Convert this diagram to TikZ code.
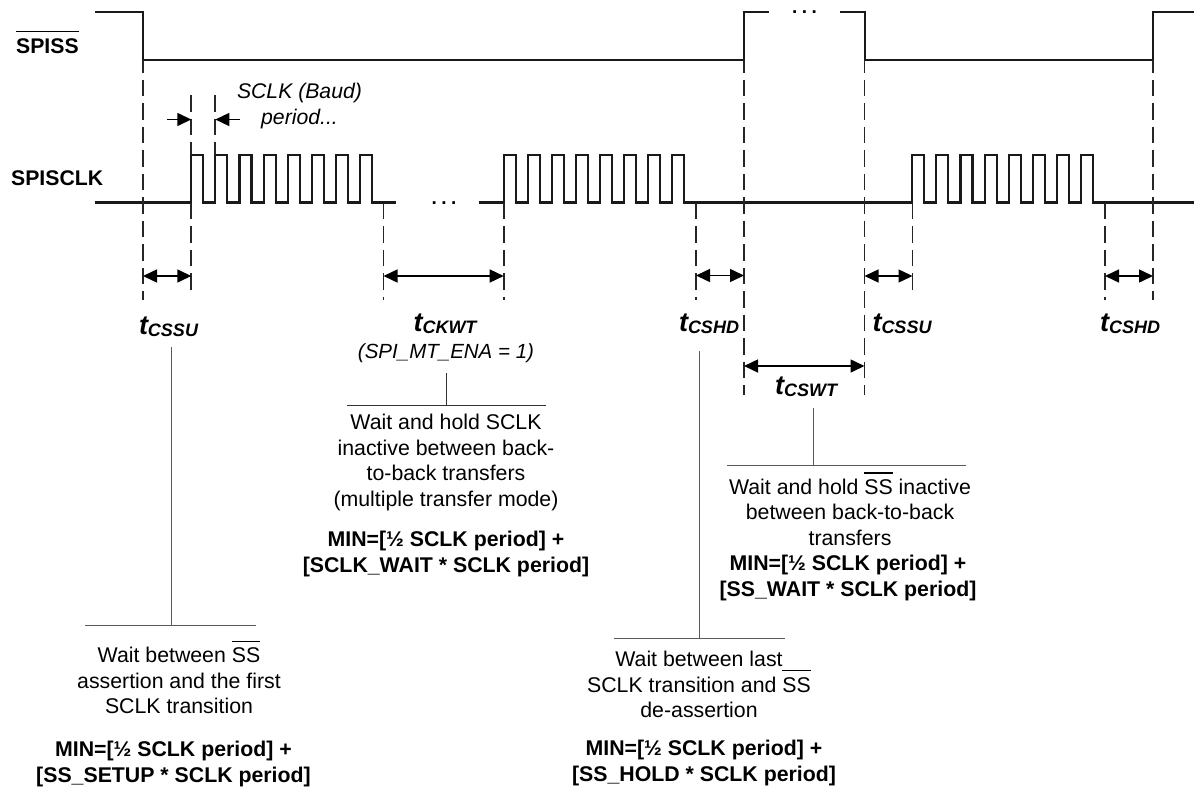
\documentclass[tikz,border=0pt]{standalone}
\usepackage{fontspec}
\setmainfont{Liberation Sans}
\usetikzlibrary{arrows.meta}
\newcommand{\ovl}[1]{\leavevmode\setbox0\hbox{#1}\rlap{\rule[0.97em]{\wd0}{1.4pt}}#1}
\newcommand{\tm}[1]{{\fontsize{27}{27}\selectfont\bfseries\itshape t\fontsize{18}{18}\selectfont\raisebox{-2.5pt}{#1}}}
\tikzset{
  wave/.style={line width=2.05pt,black!90,line cap=butt},
  guide/.style={line width=1.7pt,black!85,dash pattern=on 16.5pt off 7pt},
  guidetop/.style={guide,dash phase=4pt},
  span/.style={line width=1.5pt,black,{Triangle[length=14pt,width=13pt]}-{Triangle[length=14pt,width=13pt]}},
  single/.style={line width=1.5pt,black,-{Triangle[length=14pt,width=13pt]}},
  leader/.style={line width=1pt,black!65},
  desc/.style={align=center,inner sep=0pt,font=\fontsize{21.3}{25.5}\selectfont},
  minf/.style={align=center,inner sep=0pt,font=\fontsize{21.3}{25.5}\selectfont\bfseries},
  sig/.style={inner sep=0pt,font=\fontsize{21.2}{21}\selectfont\bfseries},
  timing/.style={inner sep=0pt},
  dots/.style={inner sep=0pt,font=\fontsize{19}{19}\selectfont\bfseries}
}
\newcommand{\pulses}[1]{%
  \draw[wave] (#1,202.5)
  \foreach \k in {0,...,7}{ -- ({#1+\k*24.1},155) -- ({#1+\k*24.1+12},155) -- ({#1+\k*24.1+12},202.5) -- ({#1+\k*24.1+24.1},202.5)} ;
}
\newcommand{\threedots}{.\hspace{4.4pt}.\hspace{4.4pt}.}
\begin{document}
\begin{tikzpicture}[x=1pt,y=-1pt]
\useasboundingbox (0,0) rectangle (1194,787);
% SPISS
\draw[wave] (95,12) -- (143,12) -- (143,60) -- (744,60) -- (744,12) -- (769,12);
\draw[wave] (840,12) -- (865,12) -- (865,60) -- (1153,60) -- (1153,12) -- (1194,12);
% SPISCLK
\draw[wave] (95,202.5) -- (191.3,202.5);
\pulses{191.3}
\draw[wave] (371.6,202.5) -- (396,202.5);
\draw[wave] (479,202.5) -- (503.7,202.5);
\pulses{503.7}
\draw[wave] (684.5,202.5) -- (912.3,202.5);
\pulses{912.3}
\draw[wave] (1093,202.5) -- (1194,202.5);
\node[dots,anchor=base] (dotsa) at (804.5,13.5) {\threedots};
\node[dots,anchor=base] (dotsb) at (444,204) {\threedots};
% guides
\draw[guidetop] (143,60) -- (143,300);
\draw[guide] (191.3,95) -- (191.3,155);
\draw[guide] (215.3,95) -- (215.3,155);
\draw[guide] (191.3,202.5) -- (191.3,292);
\draw[guide] (383.5,202.5) -- (383.5,300);
\draw[guide] (503.7,202.5) -- (503.7,300);
\draw[guide] (696,202.5) -- (696,300);
\draw[guidetop] (744,60) -- (744,395);
\draw[guidetop] (864.5,60) -- (864.5,395);
\draw[guide] (912.5,202.5) -- (912.5,292);
\draw[guide] (1105,202.5) -- (1105,300);
\draw[guidetop] (1153,60) -- (1153,300);
% spans
\coordinate (a1) at (143,276); \coordinate (a2) at (191.3,276);
\coordinate (b1) at (383.5,276); \coordinate (b2) at (503.7,276);
\coordinate (c1) at (696,275.5); \coordinate (c2) at (744,275.5);
\coordinate (d1) at (864.5,276); \coordinate (d2) at (912.5,276);
\coordinate (e1) at (1105,276); \coordinate (e2) at (1153,276);
\coordinate (f1) at (744,366); \coordinate (f2) at (864.5,366);
\coordinate (p1) at (167,119.5); \coordinate (p2) at (191.3,119.5);
\coordinate (p3) at (240,119.5); \coordinate (p4) at (215.3,119.5);
\draw[span] (a1) -- (a2);
\draw[span] (b1) -- (b2);
\draw[span] (c1) -- (c2);
\draw[span] (d1) -- (d2);
\draw[span] (e1) -- (e2);
\draw[span] (f1) -- (f2);
\draw[single] (p1) -- (p2);
\draw[single] (p3) -- (p4);
% signal labels
\node[sig,anchor=base west] (spiss) at (16,53) {\ovl{SPISS}};
\node[sig,anchor=base west] (spisclk) at (11,185) {SPISCLK};
\node[desc,font=\fontsize{21.2}{25.5}\selectfont\itshape] (baud) at (299.5,106) {SCLK (Baud)\\period...};
% timing labels
\node[timing,anchor=base] (t1) at (168.5,334) {\tm{CSSU}};
\node[timing,anchor=base] (t2) at (445,331) {\tm{CKWT}};
\node[desc,font=\fontsize{20.5}{25.5}\selectfont\itshape] (t2sub) at (446,353.5) {(SPI\_MT\_ENA = 1)};
\node[timing,anchor=base] (t3) at (709,331) {\tm{CSHD}};
\node[timing,anchor=base] (t4) at (902,331) {\tm{CSSU}};
\node[timing,anchor=base] (t5) at (1130,331) {\tm{CSHD}};
\node[timing,anchor=base] (t6) at (806,394) {\tm{CSWT}};
% leaders
\coordinate (l1t) at (171,347); \coordinate (l1b) at (171,625.5);
\coordinate (l1a) at (85,625.5); \coordinate (l1c) at (256,625.5);
\draw[leader] (l1t) -- (l1b); \draw[leader] (l1a) -- (l1c);
\coordinate (l2t) at (446,373); \coordinate (l2b) at (446,405);
\coordinate (l2a) at (347,405); \coordinate (l2c) at (546,405);
\draw[leader,black!80] (l2t) -- (l2b); \draw[leader,black!80] (l2a) -- (l2c);
\coordinate (l3t) at (699,351); \coordinate (l3b) at (699,638.5);
\coordinate (l3a) at (614,638.5); \coordinate (l3c) at (785,638.5);
\draw[leader] (l3t) -- (l3b); \draw[leader] (l3a) -- (l3c);
\coordinate (l4t) at (813,408); \coordinate (l4b) at (813,465);
\coordinate (l4a) at (727,465); \coordinate (l4c) at (966,465);
\draw[leader] (l4t) -- (l4b); \draw[leader] (l4a) -- (l4c);
% descriptions
\node[desc,anchor=north] (d1t) at (179,640.5) {Wait between \ovl{SS}\\assertion and the first\\SCLK transition};
\node[minf,anchor=north] (m1) at (173.5,741) {MIN=[½ SCLK period] +\\{[}SS\_SETUP * SCLK period]};
\node[desc,anchor=north] (d2t) at (446,414) {Wait and hold SCLK\\inactive between back-\\to-back transfers\\(multiple transfer mode)};
\node[minf,anchor=north] (m2) at (446,531) {MIN=[½ SCLK period] +\\{[}SCLK\_WAIT * SCLK period]};
\node[desc,anchor=north] (d3t) at (850,472) {Wait and hold \ovl{SS} inactive\\between back-to-back\\transfers};
\node[minf,anchor=north] (m3) at (848,555) {MIN=[½ SCLK period] +\\{[}SS\_WAIT * SCLK period]};
\node[desc,anchor=north] (d4t) at (699,651) {Wait between last\\SCLK transition and \ovl{SS}\\de-assertion};
\node[minf,anchor=north] (m4) at (704,740) {MIN=[½ SCLK period] +\\{[}SS\_HOLD * SCLK period]};
\end{tikzpicture}
\end{document}
